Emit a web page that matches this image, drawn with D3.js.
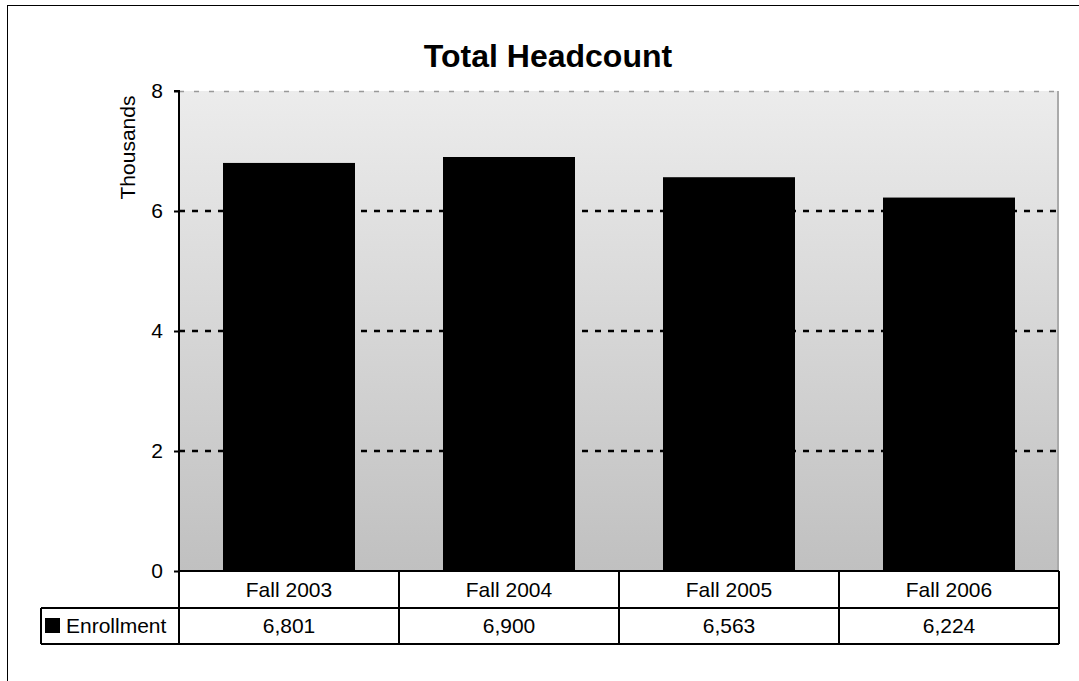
<!DOCTYPE html>
<html><head><meta charset="utf-8">
<script src="https://cdn.jsdelivr.net/npm/d3@7"></script>
<style>body{margin:0;background:#fff}svg{display:block;font-family:"Liberation Sans",Arial,sans-serif}</style>
</head><body>
<svg id="c" width="1079" height="681"></svg>
<script>
const categories = ["Fall 2003", "Fall 2004", "Fall 2005", "Fall 2006"];
const enrollment = [6801, 6900, 6563, 6224];
const enrollmentLabels = ["6,801", "6,900", "6,563", "6,224"];
const yTicks = [0, 2, 4, 6, 8];
const seriesName = "Enrollment";
const chartTitle = "Total Headcount";
const yTitle = "Thousands";

const svg = d3.select("#c");
const L = 179, R = 1059, T = 91, B = 571;
const row1 = 608, row2 = 644, legendLeft = 41;

svg.append("rect").attr("x", 7.5).attr("y", 5.5).attr("width", 1200).attr("height", 800)
  .attr("fill", "#fff").attr("stroke", "#000").attr("stroke-width", 1);

const defs = svg.append("defs");
const g = defs.append("linearGradient").attr("id", "bg").attr("x1", 0).attr("y1", 0).attr("x2", 0).attr("y2", 1);
g.append("stop").attr("offset", "0%").attr("stop-color", "#ececec");
g.append("stop").attr("offset", "100%").attr("stop-color", "#c0c0c0");

const x = d3.scaleBand().domain(categories).range([L, R]).paddingInner(0.4).paddingOuter(0.2);
const xc = d3.scaleBand().domain(categories).range([L, R]);
const y = d3.scaleLinear().domain([0, 8]).range([B, T]);

svg.append("rect").attr("x", L).attr("y", T).attr("width", R - L).attr("height", B - T).attr("fill", "url(#bg)");

// gridlines
svg.append("g").selectAll("line").data(yTicks.filter(d => d > 0 && d < 8)).join("line")
  .attr("x1", L).attr("x2", R - 1).attr("y1", d => y(d)).attr("y2", d => y(d))
  .attr("stroke", "#000").attr("stroke-width", 2.5).attr("stroke-dasharray", "6,7");
svg.append("line").attr("x1", L).attr("x2", R).attr("y1", y(8) + 0.5).attr("y2", y(8) + 0.5)
  .attr("stroke", "#999").attr("stroke-width", 1.5).attr("stroke-dasharray", "5,10");
svg.append("line").attr("x1", R - 1).attr("x2", R - 1).attr("y1", T).attr("y2", B)
  .attr("stroke", "#aaa").attr("stroke-width", 2);

// bars
svg.append("g").selectAll("rect").data(enrollment).join("rect")
  .attr("x", (d, i) => x(categories[i])).attr("width", x.bandwidth())
  .attr("y", d => y(d / 1000)).attr("height", d => B - y(d / 1000)).attr("fill", "#000");

// y axis
const ya = svg.append("g").attr("transform", `translate(${L},0)`)
  .call(d3.axisLeft(y).tickValues(yTicks).tickSize(5).tickPadding(11).tickFormat(d3.format("d")));
ya.select(".domain").attr("stroke-width", 2).attr("d", `M-5,${T}H0V${B}`);
ya.selectAll(".tick line").attr("stroke-width", 2);
ya.selectAll("text").attr("font-size", 21).attr("font-family", "Liberation Sans, Arial, sans-serif").attr("fill", "#000");

svg.append("text").attr("transform", `translate(135,${(95 + 200) / 2}) rotate(-90)`)
  .attr("text-anchor", "middle").attr("font-size", 21).text(yTitle);

svg.append("text").attr("x", 548).attr("y", 67).attr("text-anchor", "middle")
  .attr("font-size", 32).attr("font-weight", "bold").text(chartTitle);

// data table
const tl = svg.append("g").attr("stroke", "#000").attr("stroke-width", 2).attr("fill", "none");
tl.append("line").attr("x1", L).attr("x2", R).attr("y1", B).attr("y2", B);
tl.append("line").attr("x1", legendLeft).attr("x2", R).attr("y1", row1).attr("y2", row1);
tl.append("line").attr("x1", legendLeft).attr("x2", R).attr("y1", row2).attr("y2", row2);
tl.append("line").attr("x1", legendLeft).attr("x2", legendLeft).attr("y1", row1).attr("y2", row2);
tl.selectAll(".v").data(categories.concat(["end"])).join("line")
  .attr("x1", (d, i) => L + i * xc.bandwidth()).attr("x2", (d, i) => L + i * xc.bandwidth())
  .attr("y1", B).attr("y2", row2);

svg.append("g").selectAll("text").data(categories).join("text")
  .attr("x", d => xc(d) + xc.bandwidth() / 2).attr("y", 597).attr("text-anchor", "middle")
  .attr("font-size", 21).text(d => d);
svg.append("g").selectAll("text").data(enrollmentLabels).join("text")
  .attr("x", (d, i) => xc(categories[i]) + xc.bandwidth() / 2).attr("y", 633).attr("text-anchor", "middle")
  .attr("font-size", 21).text(d => d);

svg.append("rect").attr("x", 45).attr("y", 618).attr("width", 15).attr("height", 15).attr("fill", "#000");
svg.append("text").attr("x", 66).attr("y", 633).attr("font-size", 21).text(seriesName);
</script>
</body></html>
